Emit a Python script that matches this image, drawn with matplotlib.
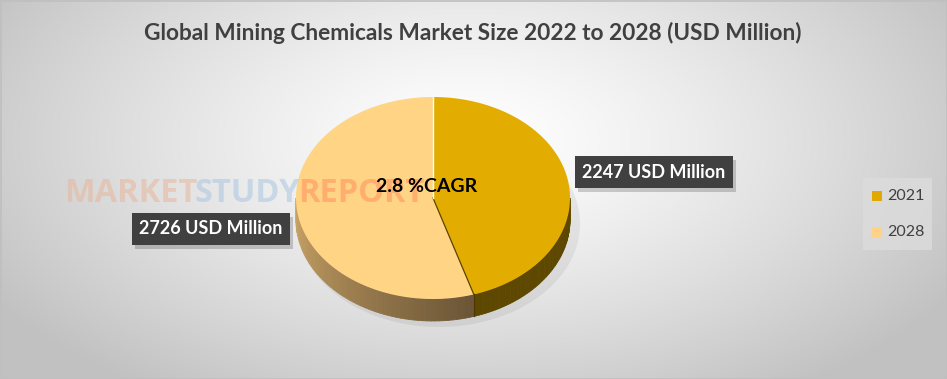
import numpy as np
import matplotlib
matplotlib.use("Agg")
import matplotlib.pyplot as plt
from matplotlib.patches import Polygon, Rectangle

# ---- data ----
title = "Global Mining Chemicals Market Size 2022 to 2028 (USD Million)"
years = ["2021", "2028"]
values = [2247, 2726]
value_labels = ["2247 USD Million", "2726 USD Million"]
cagr_text = "2.8 %CAGR"
top_colors = ["#E3AC00", "#FFD485"]
legend_colors = ["#E0A800", "#FFD285"]

W, H = 947, 379
fig = plt.figure(figsize=(W / 100, H / 100), dpi=100)
ax = fig.add_axes([0, 0, 1, 1])
ax.set_xlim(0, W)
ax.set_ylim(H, 0)
ax.axis("off")
renderer = fig.canvas.get_renderer()

# ---- background radial gradient ----
yy, xx = np.mgrid[0:H, 0:W]
r = np.sqrt(((xx - 470) / 560.0) ** 2 + ((yy - 140) / 300.0) ** 2)
shade = np.clip(1.0 - 0.24 * r ** 1.3, 0.76, 1.0)
bg = np.dstack([shade, shade, shade])
ax.imshow(bg, extent=(0, W, H, 0), zorder=0, interpolation="bilinear")
ax.add_patch(Rectangle((0.5, 0.5), W - 1, H - 1, fill=False, ec="#BFBFBF", lw=1.2, zorder=1))

# ---- title ----
ax.text(473, 33, title, ha="center", va="center", fontsize=16.3, fontweight="bold",
        color="#404040", family="Lato", zorder=5)

# ---- 3D pie ----
cx, cy, rx, ry, depth = 433, 198, 137, 101, 22
total = sum(values)
angles = [90]
for v in values:
    angles.append(angles[-1] - 360.0 * v / total)

def ell(th):
    t = np.radians(th)
    return cx + rx * np.cos(t), cy - ry * np.sin(t)

# shadow
sh_t = np.linspace(0, 2 * np.pi, 200)
ax.fill(cx + 6 + (rx + 4) * np.cos(sh_t), cy + depth + 4 + (ry + 2) * np.sin(sh_t),
        color="#000000", alpha=0.06, lw=0, zorder=2)

# sides (front half: angles between -180 and 0)
side_specs = [("#5E4800", "#5A4400"), ("#CFA868", "#6A5436")]
for i in range(len(values)):
    a0, a1 = angles[i], angles[i + 1]
    lo, hi = max(min(a0, a1), -180), min(max(a0, a1), 0)
    if lo >= hi:
        continue
    steps = np.linspace(lo, hi, 60)
    c0 = np.array(matplotlib.colors.to_rgb(side_specs[i][0]))
    c1 = np.array(matplotlib.colors.to_rgb(side_specs[i][1]))
    for k in range(len(steps) - 1):
        s0, s1 = steps[k], steps[k + 1]
        x0, y0 = ell(s0)
        x1, y1 = ell(s1)
        f = (k + 0.5) / (len(steps) - 1)
        col = c0 + (c1 - c0) * f if i == 1 else c0
        ax.add_patch(Polygon([(x0, y0), (x1, y1), (x1, y1 + depth), (x0, y0 + depth)],
                             closed=True, fc=col, ec=col, lw=0.6, zorder=3))

# top faces
for i in range(len(values)):
    th = np.linspace(angles[i], angles[i + 1], 200)
    px, py = ell(th)
    pts = [(cx, cy)] + list(zip(px, py))
    ax.add_patch(Polygon(pts, closed=True, fc=top_colors[i], ec="none", zorder=4))

# separators
bx, by = ell(angles[1])
ax.plot([cx, bx], [cy, by], color="#5A4400", lw=0.9, zorder=4.5)
ax.plot([bx, bx], [by, by + depth], color="#4A3800", lw=0.9, zorder=4.5)
tx, ty = ell(90)
ax.plot([cx, tx], [cy, ty], color="white", lw=1.0, zorder=4.5)

# ---- watermark ----
wm_parts = [("MARKET", "#E8B79C", 0.55), ("STUDY", "#A9C6E2", 0.55), ("REPORT", "#FF9A66", 0.65)]
wm_x = 64
for word, col, al in wm_parts:
    t = ax.text(wm_x, 194, word, ha="left", va="center", fontsize=23.5, fontweight="bold",
                family="Open Sans", color=col, alpha=al, zorder=6)
    bb = t.get_window_extent(renderer=renderer)
    wm_x += bb.width * 0.98

# ---- CAGR text ----
ax.text(427, 186, cagr_text, ha="center", va="center", fontsize=14, fontweight="bold",
        color="black", family="Lato", zorder=7)

# ---- value label boxes ----
label_pos = [(654, 172), (211, 229)]
inv = ax.transData.inverted()
for i, lab in enumerate(value_labels):
    x, y = label_pos[i]
    t = ax.text(x, y, lab, ha="center", va="center", fontsize=13, fontweight="bold",
                color="white", family="Lato", zorder=8,
                bbox=dict(boxstyle="square,pad=0.4", fc="#404040", ec="none"))
    fig.canvas.draw()
    bp = t.get_bbox_patch().get_window_extent(renderer=renderer)
    (x0, y0), (x1, y1) = inv.transform([(bp.x0, bp.y0), (bp.x1, bp.y1)])
    ax.add_patch(Rectangle((min(x0, x1) + 3, min(y0, y1) + 4), abs(x1 - x0), abs(y1 - y0),
                           fc="#000000", ec="none", alpha=0.18, zorder=7.5))

# ---- legend ----
ax.add_patch(Rectangle((863, 178), 69, 72, fc="#DCDCDC", ec="none", alpha=0.8, zorder=5))
for i, yr in enumerate(years):
    ly = 196 + i * 36
    ax.add_patch(Rectangle((872, ly - 5), 10, 10, fc=legend_colors[i], ec="none", zorder=6))
    ax.text(887, ly, yr, ha="left", va="center", fontsize=11.5, color="#404040",
            family="Lato", zorder=6)

fig.savefig("out.png", dpi=100)
